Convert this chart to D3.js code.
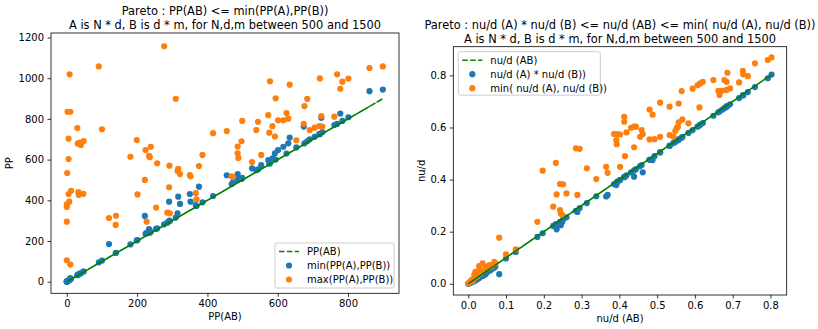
<!DOCTYPE html>
<html>
<head>
<meta charset="utf-8">
<script src="https://cdn.jsdelivr.net/npm/d3@7"></script>
<style>
  body { margin: 0; background: #fff; }
  svg { display: block; font-family: "DejaVu Sans", sans-serif; }
</style>
</head>
<body>
<div id="chart"></div>
<script>
// ---- left panel data: PP(AB), min(PP(A),PP(B)), max(PP(A),PP(B))
var ppAB  = [8,2,10,30,5,31,40,48,36,5,1,12,5,7,0,0,0,0,10,33,34,47,91,100,120,140,139,181,199,201,222,227,224,239,234,236,254,257,277,291,292,293,286,310,315,322,317,350,352,369,367,376,386,416,455,469,473,486,486,488,497,499,527,539,544,553,573,576,578,585,592,594,601,616,625,630,634,653,674,676,684,691,705,718,720,724,727,761,769,778,784,801,861,899];
var ppMin = [10,3,12,32,6,33,42,50,38,5,2,14,7,8,1,0,0,1,18,35,36,50,95,104,185,142,141,183,203,205,323,240,235,245,258,240,260,262,282,393,300,298,290,315,336,382,418,431,393,372,376,467,390,421,523,480,490,529,500,510,505,510,557,548,552,573,598,580,582,606,631,600,647,663,630,680,708,660,762,680,690,700,712,725,725,805,735,770,775,826,790,808,936,944];
var ppMax = [1019,835,835,755,703,678,672,691,683,603,534,447,431,393,380,367,295,105,84,440,426,432,1058,749,313,324,279,614,696,429,500,295,647,663,618,612,364,582,1157,464,570,336,339,899,544,529,555,524,518,405,435,568,623,730,740,518,514,664,631,608,690,790,588,745,786,623,818,732,985,764,713,901,793,793,829,801,968,695,776,863,898,745,757,765,999,814,762,811,1019,948,983,998,1050,1058];

// ---- right panel data: nu/d (AB), nu/d(A)*nu/d(B), min(nu/d(A), nu/d(B))
var nuAB   = [0.000,0.003,0.005,0.009,0.012,0.016,0.019,0.020,0.025,0.029,0.029,0.033,0.038,0.040,0.045,0.047,0.050,0.056,0.060,0.062,0.069,0.072,0.082,0.100,0.126,0.183,0.197,0.225,0.232,0.234,0.243,0.243,0.245,0.249,0.251,0.260,0.285,0.289,0.295,0.314,0.339,0.365,0.369,0.386,0.392,0.393,0.395,0.402,0.402,0.413,0.413,0.415,0.419,0.431,0.439,0.439,0.444,0.455,0.459,0.462,0.480,0.480,0.488,0.493,0.508,0.508,0.533,0.533,0.543,0.548,0.552,0.555,0.557,0.557,0.565,0.567,0.583,0.594,0.607,0.612,0.614,0.621,0.649,0.662,0.665,0.672,0.678,0.684,0.684,0.686,0.693,0.717,0.727,0.728,0.740,0.759,0.793,0.803];
var nuProd = [0.000,0.002,0.003,0.006,0.008,0.010,0.014,0.015,0.018,0.022,0.025,0.027,0.030,0.032,0.036,0.040,0.044,0.050,0.054,0.056,0.062,0.066,0.037,0.097,0.122,0.180,0.194,0.222,0.229,0.209,0.238,0.235,0.225,0.238,0.247,0.255,0.280,0.276,0.291,0.310,0.336,0.335,0.341,0.383,0.379,0.389,0.392,0.399,0.398,0.410,0.409,0.411,0.416,0.428,0.435,0.411,0.440,0.452,0.456,0.428,0.476,0.477,0.475,0.490,0.504,0.505,0.530,0.529,0.540,0.544,0.549,0.551,0.553,0.554,0.561,0.563,0.579,0.590,0.603,0.608,0.611,0.617,0.645,0.658,0.661,0.668,0.674,0.680,0.681,0.682,0.689,0.713,0.723,0.724,0.736,0.755,0.789,0.803];
var nuMin  = [0.002,0.004,0.008,0.015,0.010,0.034,0.046,0.025,0.030,0.053,0.068,0.040,0.078,0.050,0.055,0.065,0.060,0.072,0.065,0.070,0.084,0.078,0.177,0.113,0.132,0.238,0.434,0.296,0.464,0.343,0.383,0.283,0.270,0.264,0.382,0.347,0.520,0.341,0.518,0.443,0.402,0.449,0.426,0.575,0.552,0.536,0.575,0.449,0.573,0.641,0.622,0.490,0.581,0.599,0.603,0.524,0.603,0.564,0.590,0.575,0.554,0.669,0.649,0.555,0.695,0.564,0.680,0.571,0.564,0.586,0.598,0.603,0.620,0.692,0.740,0.631,0.616,0.749,0.762,0.677,0.769,0.775,0.782,0.741,0.725,0.741,0.782,0.775,0.744,0.810,0.750,0.773,0.817,0.804,0.797,0.846,0.859,0.869];

var ppTicksX = [0, 200, 400, 600, 800];
var ppTicksY = [0, 200, 400, 600, 800, 1000, 1200];
var nuTicksX = [0.0, 0.1, 0.2, 0.3, 0.4, 0.5, 0.6, 0.7, 0.8];
var nuTicksY = [0.0, 0.2, 0.4, 0.6, 0.8];

var blue = "#1f77b4", orange = "#ff7f0e", green = "#008000";

var svg = d3.select("#chart").append("svg")
    .attr("width", 818)
    .attr("height", 329);

svg.append("rect").attr("width", 818).attr("height", 329).attr("fill", "#fff");

function gcd(a, b) { return b ? gcd(b, a % b) : a; }

function panel(opt) {
    var x = d3.scaleLinear().domain(opt.xDomain).range([opt.left, opt.right]);
    var y = d3.scaleLinear().domain(opt.yDomain).range([opt.bottom, opt.top]);
    var g = svg.append("g");

    // scatter first (matplotlib collections sit under lines)
    g.selectAll("circle.b")
        .data(opt.xs.map((d, i) => [d, opt.ya[i]]))
        .enter().append("circle")
        .attr("cx", d => x(d[0]))
        .attr("cy", d => y(d[1]))
        .attr("r", 3.1)
        .attr("fill", blue);

    g.selectAll("circle.o")
        .data(opt.xs.map((d, i) => [d, opt.yb[i]]))
        .enter().append("circle")
        .attr("cx", d => x(d[0]))
        .attr("cy", d => y(d[1]))
        .attr("r", 3.1)
        .attr("fill", orange);

    // identity line drawn through the samples in scrambled order
    var n = opt.xs.length, step = 37;
    while (gcd(step, n) !== 1) step++;
    var order = d3.range(n).map(i => (i * step) % n);
    var line = d3.line().x(i => x(opt.xs[i])).y(i => y(opt.xs[i]));
    g.append("path")
        .attr("d", line(order))
        .attr("fill", "none")
        .attr("stroke", green)
        .attr("stroke-width", 1.5)
        .attr("stroke-dasharray", "5.5,2.4");

    // axes
    var ax = g.append("g")
        .attr("transform", "translate(0," + opt.bottom + ")")
        .call(d3.axisBottom(x).tickValues(opt.ticksX).tickFormat(opt.fmtX).tickSize(3.5).tickPadding(3.5));
    var ay = g.append("g")
        .attr("transform", "translate(" + opt.left + ",0)")
        .call(d3.axisLeft(y).tickValues(opt.ticksY).tickFormat(opt.fmtY).tickSize(3.5).tickPadding(3.5));
    [ax, ay].forEach(function (a) {
        a.select(".domain").remove();
        a.selectAll("line").attr("stroke", "#000").attr("stroke-width", 0.8);
        a.selectAll("text").attr("font-size", 10).attr("fill", "#000")
            .attr("font-family", "DejaVu Sans");
    });

    g.append("rect")
        .attr("x", opt.left).attr("y", opt.top)
        .attr("width", opt.right - opt.left).attr("height", opt.bottom - opt.top)
        .attr("fill", "none").attr("stroke", "#000").attr("stroke-width", 0.8);

    // titles and labels
    var cx = (opt.left + opt.right) / 2;
    opt.title.forEach(function (t, i) {
        g.append("text")
            .attr("x", cx).attr("y", opt.top - 4.2 - (opt.title.length - 1 - i) * 13.4)
            .attr("text-anchor", "middle").attr("font-size", 11.4).text(t);
    });
    g.append("text")
        .attr("x", cx).attr("y", opt.bottom + 27)
        .attr("text-anchor", "middle").attr("font-size", 10).text(opt.xLabel);
    g.append("text")
        .attr("transform", "translate(" + opt.yLabelX + "," + ((opt.top + opt.bottom) / 2) + ") rotate(-90)")
        .attr("text-anchor", "middle").attr("font-size", 10).text(opt.yLabel);

    // legend
    var L = opt.legend;
    var lg = g.append("g").attr("transform", "translate(" + L.x + "," + L.y + ")");
    lg.append("rect")
        .attr("width", L.w).attr("height", L.h).attr("rx", 2)
        .attr("fill", "#fff").attr("fill-opacity", 0.8)
        .attr("stroke", "#ccc").attr("stroke-width", 1);
    L.labels.forEach(function (lab, i) {
        var yy = 8.5 + i * 14;
        if (i === 0) {
            lg.append("line").attr("x1", 4).attr("x2", 24).attr("y1", yy).attr("y2", yy)
                .attr("stroke", green).attr("stroke-width", 1.5).attr("stroke-dasharray", "5.5,2.4");
        } else {
            lg.append("circle").attr("cx", 14).attr("cy", yy).attr("r", 3.1)
                .attr("fill", i === 1 ? blue : orange);
        }
        lg.append("text").attr("x", 32).attr("y", yy + 3.6)
            .attr("font-size", 10).text(lab);
    });
}

panel({
    xs: ppAB, ya: ppMin, yb: ppMax,
    xDomain: [-45, 945], yDomain: [-57, 1222],
    left: 51, right: 399, top: 33, bottom: 293.3,
    ticksX: ppTicksX, ticksY: ppTicksY,
    fmtX: d3.format("d"), fmtY: d3.format("d"),
    title: ["Pareto : PP(AB) <= min(PP(A),PP(B))", "A is N * d, B is d * m, for N,d,m between 500 and 1500"],
    xLabel: "PP(AB)", yLabel: "PP", yLabelX: 13,
    legend: { x: 275, y: 243, w: 119, h: 45,
        labels: ["PP(AB)", "min(PP(A),PP(B))", "max(PP(A),PP(B))"] }
});

panel({
    xs: nuAB, ya: nuProd, yb: nuMin,
    xDomain: [-0.0395, 0.843], yDomain: [-0.043, 0.910],
    left: 453.3, right: 786.7, top: 46.7, bottom: 295,
    ticksX: nuTicksX, ticksY: nuTicksY,
    fmtX: d3.format(".1f"), fmtY: d3.format(".1f"),
    title: ["Pareto : nu/d (A) * nu/d (B) <= nu/d (AB) <= min( nu/d (A), nu/d (B))", "A is N * d, B is d * m, for N,d,m between 500 and 1500"],
    xLabel: "nu/d (AB)", yLabel: "nu/d", yLabelX: 425,
    legend: { x: 458.3, y: 51.7, w: 142, h: 43.5,
        labels: ["nu/d (AB)", "nu/d (A) * nu/d (B))", "min( nu/d (A), nu/d (B))"] }
});
</script>
</body>
</html>
